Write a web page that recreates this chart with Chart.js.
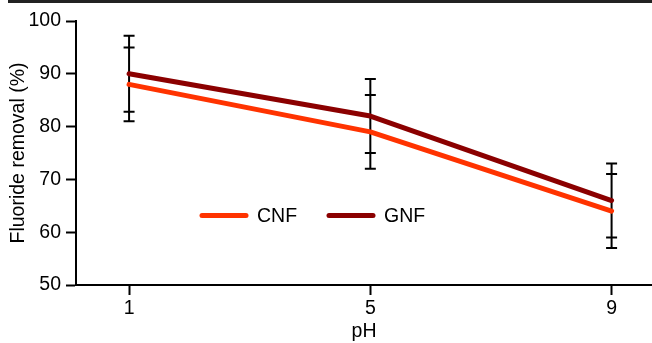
<!DOCTYPE html>
<html>
<head>
<meta charset="utf-8">
<script src="https://cdn.jsdelivr.net/npm/chart.js@4"></script>
<style>
  body { margin: 0; background: #fff; }
  #wrap { position: relative; width: 652px; height: 343px; }
  #topRule { position: absolute; left: 8px; top: 0; width: 644px; height: 3px; background: #222; }
  canvas { position: absolute; left: 0; top: 0; }
</style>
</head>
<body>
<div id="wrap">
  <canvas id="removalChart" width="652" height="343"></canvas>
  <div id="topRule"></div>
</div>
<script>
// pH values and fluoride removal (%) with +/- error
const phValues = [1, 5, 9];
const cnfRemoval = [88, 79, 64];
const cnfError = [7, 7, 7];
const gnfRemoval = [90, 82, 66];
const gnfError = [7.2, 7, 7];

const FONT = "'Liberation Sans', Arial, Helvetica, sans-serif";
const FONT_SIZE = 19.5;

// Error bars: one black stem per pH spanning both series, caps at each series' limits
const errorBars = {
    id: 'errorBars',
    beforeDatasetsDraw(chart) {
        const { ctx, scales: { x, y } } = chart;
        ctx.save();
        ctx.strokeStyle = '#000';
        ctx.lineWidth = 2;
        phValues.forEach((ph, i) => {
            const px = x.getPixelForValue(ph);
            const limits = [
                cnfRemoval[i] + cnfError[i], cnfRemoval[i] - cnfError[i],
                gnfRemoval[i] + gnfError[i], gnfRemoval[i] - gnfError[i]
            ];
            const top = y.getPixelForValue(Math.max(...limits));
            const bottom = y.getPixelForValue(Math.min(...limits));
            ctx.beginPath();
            ctx.moveTo(px, top);
            ctx.lineTo(px, bottom);
            limits.forEach(v => {
                const py = y.getPixelForValue(v);
                ctx.moveTo(px - 5.5, py);
                ctx.lineTo(px + 5.5, py);
            });
            ctx.stroke();
        });
        ctx.restore();
    }
};

// Legend drawn inside the plot area
const innerLegend = {
    id: 'innerLegend',
    afterDraw(chart) {
        const { ctx } = chart;
        const items = [
            { ds: chart.data.datasets[0], x: 200 },
            { ds: chart.data.datasets[1], x: 327 }
        ];
        const ly = 215.5;
        ctx.save();
        ctx.lineCap = 'round';
        ctx.font = FONT_SIZE + 'px ' + FONT;
        ctx.textBaseline = 'middle';
        items.forEach(item => {
            ctx.strokeStyle = item.ds.borderColor;
            ctx.lineWidth = 5;
            ctx.beginPath();
            ctx.moveTo(item.x + 2, ly);
            ctx.lineTo(item.x + 46, ly);
            ctx.stroke();
            ctx.fillStyle = '#000';
            ctx.fillText(item.ds.label, item.x + 57, ly + 1);
        });
        ctx.restore();
    }
};

const ctx = document.getElementById('removalChart').getContext('2d');
const removalChart = new Chart(ctx, {
    type: 'line',
    data: {
        datasets: [{
            label: 'CNF',
            data: phValues.map((ph, i) => ({ x: ph, y: cnfRemoval[i] })),
            borderColor: '#ff3300',
            borderWidth: 5,
            pointRadius: 0,
            borderCapStyle: 'round',
            borderJoinStyle: 'round'
        }, {
            label: 'GNF',
            data: phValues.map((ph, i) => ({ x: ph, y: gnfRemoval[i] })),
            borderColor: '#8b0000',
            borderWidth: 5,
            pointRadius: 0,
            borderCapStyle: 'round',
            borderJoinStyle: 'round'
        }]
    },
    options: {
        responsive: false,
        animation: false,
        layout: { padding: { top: 21, right: 0, left: 0, bottom: 0 } },
        plugins: {
            legend: { display: false },
            tooltip: { enabled: false }
        },
        scales: {
            x: {
                type: 'linear',
                min: 0.12,
                max: 9.67,
                afterBuildTicks(scale) {
                    scale.ticks = phValues.map(v => ({ value: v }));
                },
                afterFit(scale) { scale.height = 58; },
                border: { color: '#000', width: 2 },
                grid: { drawOnChartArea: false, tickLength: 10, color: '#000', tickWidth: 2 },
                ticks: { color: '#000', font: { family: FONT, size: FONT_SIZE }, padding: 2, maxRotation: 0 },
                title: { display: true, text: 'pH', color: '#000', font: { family: FONT, size: FONT_SIZE }, padding: 0 }
            },
            y: {
                min: 50,
                max: 100,
                afterFit(scale) { scale.width = 76; },
                border: { color: '#000', width: 2 },
                grid: { drawOnChartArea: false, tickLength: 10, color: '#000', tickWidth: 2 },
                ticks: { stepSize: 10, color: '#000', font: { family: FONT, size: FONT_SIZE }, padding: 5 },
                title: { display: true, text: 'Fluoride removal (%)', color: '#000', font: { family: FONT, size: FONT_SIZE }, padding: { top: 7, bottom: 0 } }
            }
        }
    },
    plugins: [errorBars, innerLegend]
});
</script>
</body>
</html>
